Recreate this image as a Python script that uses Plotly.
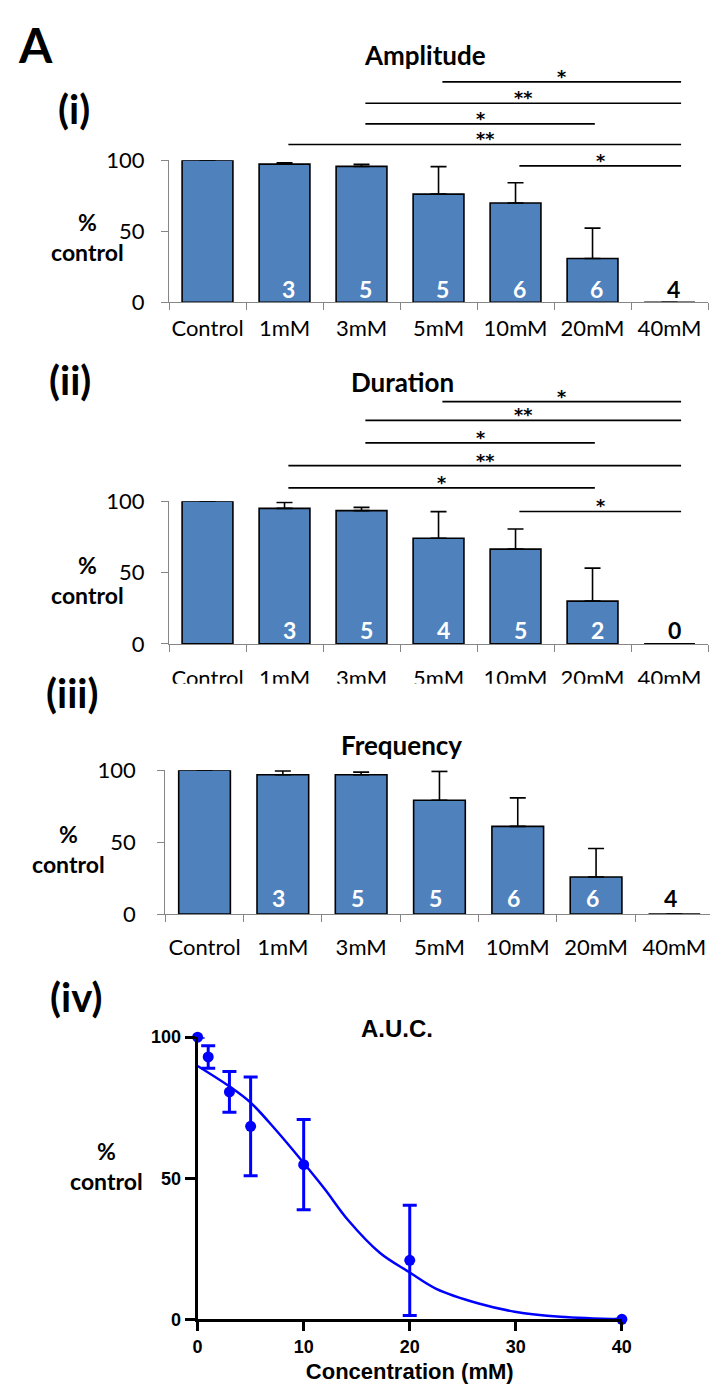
import plotly.graph_objects as go

# ---------------- data ----------------
categories = ["Control", "1mM", "3mM", "5mM", "10mM", "20mM", "40mM"]

amp_mean = [100, 97.2, 95.6, 76.1, 69.9, 30.8, 0]
amp_err = [0, 1.0, 1.5, 19.3, 14.2, 21.4, 0]
amp_n = ["", "3", "5", "5", "6", "6", "4"]
amp_sig_from = ["5mM", "3mM", "3mM", "1mM", "10mM"]
amp_sig_to = ["40mM", "40mM", "20mM", "40mM", "40mM"]
amp_sig_level = [155, 140, 125.5, 111, 95.9]
amp_sig_label = ["*", "**", "*", "**", "*"]

dur_mean = [100, 95.0, 93.4, 74.1, 66.4, 30.0, 0]
dur_err = [0, 4.1, 2.3, 18.6, 14.1, 23.1, 0]
dur_n = ["", "3", "5", "4", "5", "2", "0"]
dur_sig_from = ["5mM", "3mM", "3mM", "1mM", "1mM", "10mM"]
dur_sig_to = ["40mM", "40mM", "20mM", "40mM", "20mM", "40mM"]
dur_sig_level = [169.8, 156.7, 140.9, 125.0, 109.3, 92.8]
dur_sig_label = ["*", "**", "*", "**", "*", "*"]

freq_mean = [100, 96.8, 96.8, 79.1, 60.9, 25.7, 0]
freq_err = [0, 2.7, 1.8, 20.0, 19.8, 19.8, 0]
freq_n = ["", "3", "5", "5", "6", "6", "4"]

auc_conc = [0, 1, 3, 5, 10, 20, 40]
auc_mean = [100, 93.0, 80.6, 68.4, 54.8, 20.9, 0]
auc_err = [0, 4.0, 7.2, 17.5, 16.0, 19.5, 0]
fit_conc = [0, 3.1, 5.0, 7.4, 10.0, 12.0, 14.2, 17.2, 20.0, 22.5, 26.5, 29.9, 34.2, 40]
fit_pct = [89.8, 82.3, 76.8, 67.0, 55.4, 46.1, 35.1, 23.5, 16.6, 10.8, 5.6, 2.7, 0.9, 0]

y_ticks = [0, 50, 100]
conc_ticks = [0, 10, 20, 30, 40]

# ---------------- layout helpers ----------------
W, H = 720, 1400


def fx(p):
    return p / W


def fy(p):
    return 1 - p / H


BAR_BLUE = "#4F81BD"
AX_GRAY = "#868686"
FONT = "Lato"
STAR_FONT = "DejaVu Sans"
GP_FONT = "Liberation Sans"

fig = go.Figure()
annotations = []

panels = [
    dict(mean=amp_mean, err=amp_err, n=amp_n,
         sig=(amp_sig_from, amp_sig_to, amp_sig_level, amp_sig_label),
         x0=167.5, x1=718, xend=718, y0=294, ppu=1.45, ymax=160,
         xstand=6, ystand=12, nshift=(4, 13), helper="y5"),
    dict(mean=dur_mean, err=dur_err, n=dur_n,
         sig=(dur_sig_from, dur_sig_to, dur_sig_level, dur_sig_label),
         x0=167.5, x1=718, xend=718, y0=642.3, ppu=1.455, ymax=178,
         xstand=15, ystand=12, nshift=(5, 14), helper="y6"),
    dict(mean=freq_mean, err=freq_err, n=freq_n, sig=None,
         x0=163.8, x1=720, xend=723.6, y0=917.7, ppu=1.467, ymax=100,
         xstand=13, ystand=17, nshift=(-4, 16), helper=None),
]

idx = {c: i for i, c in enumerate(categories)}
last = len(categories) - 1

for k, p in enumerate(panels, start=1):
    xa = "x" if k == 1 else f"x{k}"
    ya = "y" if k == 1 else f"y{k}"
    cw = (p["xend"] - p["x0"]) / len(categories)
    xr_end = -0.5 + (p["x1"] - p["x0"]) / cw
    top100_px = p["y0"] - 100 * p["ppu"]

    fig.add_trace(go.Bar(
        x=[idx[c] for c in categories], y=p["mean"], xaxis=xa, yaxis=ya,
        marker=dict(color=BAR_BLUE, line=dict(color="black", width=1.6)),
        error_y=dict(type="data", symmetric=False, array=p["err"],
                     arrayminus=[0] * len(p["err"]), color="black",
                     thickness=1.6, width=8),
        cliponaxis=False, showlegend=False, hoverinfo="skip"))

    if p["sig"] is not None:
        ha = p["helper"]
        s_from, s_to, s_lvl, s_lab = p["sig"]
        for a, b, lv, lab in zip(s_from, s_to, s_lvl, s_lab):
            xs = idx[a] + 0.05
            xe = idx[b] + (0.15 if idx[b] == last else 0.03)
            fig.add_trace(go.Scatter(
                x=[xs, xe], y=[lv, lv], mode="lines", xaxis=xa, yaxis=ha,
                line=dict(color="black", width=1.7),
                showlegend=False, hoverinfo="skip"))
            annotations.append(dict(
                x=(xs + xe) / 2, y=lv, xref=xa, yref=ha, text=f"<b>{lab}</b>",
                showarrow=False, yanchor="middle", xanchor="center",
                yshift=5, borderpad=0,
                font=dict(family=STAR_FONT, size=17.5, color="black")))
        top_px = p["y0"] - p["ymax"] * p["ppu"]
        fig.layout["yaxis" + ha[1:]] = dict(
            domain=[fy(p["y0"]), fy(top_px)], anchor=xa,
            range=[0, p["ymax"]], visible=False, showgrid=False,
            zeroline=False, fixedrange=True)

    for i, (c, txt) in enumerate(zip(categories, p["n"])):
        if not txt:
            continue
        col = "white" if p["mean"][i] > 0 else "black"
        annotations.append(dict(
            x=idx[c], y=0, xref=xa, yref=ya, text=f"<b>{txt}</b>",
            showarrow=False, xanchor="center", yanchor="middle",
            xshift=p["nshift"][0], yshift=p["nshift"][1],
            font=dict(family=FONT, size=23, color=col)))

    axkey_x = "xaxis" if k == 1 else f"xaxis{k}"
    axkey_y = "yaxis" if k == 1 else f"yaxis{k}"
    fig.layout[axkey_x] = dict(
        domain=[fx(p["x0"]), fx(p["x1"])], anchor=ya, range=[-0.5, xr_end],
        tickmode="array", tickvals=[idx[c] for c in categories],
        ticktext=categories, ticks="", showgrid=False, zeroline=False,
        showline=True, linecolor=AX_GRAY, linewidth=1.3,
        ticklabelstandoff=p["xstand"],
        tickfont=dict(family=FONT, size=22, color="black"),
        minor=dict(tickmode="array",
                   tickvals=[i - 0.5 for i in range(len(categories) + 1)],
                   ticks="outside", ticklen=7, tickcolor=AX_GRAY,
                   tickwidth=1.3, showgrid=False),
        fixedrange=True)
    fig.layout[axkey_y] = dict(
        domain=[fy(p["y0"]), fy(top100_px)], anchor=xa, range=[0, 100],
        tickmode="array", tickvals=y_ticks, ticks="outside", ticklen=7,
        tickcolor=AX_GRAY, tickwidth=1.3, showgrid=False, zeroline=False,
        showline=True, linecolor=AX_GRAY, linewidth=1.3,
        ticklabelstandoff=p["ystand"],
        tickfont=dict(family=FONT, size=22, color="black"), fixedrange=True)

# ---------------- panel (iv) ----------------
fig.add_trace(go.Scatter(
    x=fit_conc, y=fit_pct, mode="lines", line=dict(color="#0000FF", width=2.5,
                                                   shape="spline", smoothing=1.0),
    xaxis="x4", yaxis="y4", showlegend=False, hoverinfo="skip"))
fig.add_trace(go.Scatter(
    x=auc_conc, y=auc_mean, mode="markers",
    marker=dict(color="#0000FF", size=11),
    error_y=dict(type="data", array=auc_err, color="#0000FF", thickness=3,
                 width=7),
    cliponaxis=False, xaxis="x4", yaxis="y4", showlegend=False,
    hoverinfo="skip"))

fig.layout["xaxis4"] = dict(
    domain=[fx(196.7), fx(630)], anchor="y4", range=[0, 40],
    tickmode="array", tickvals=conc_ticks, ticks="outside", ticklen=9,
    tickwidth=3, tickcolor="black", showline=True, linecolor="black",
    linewidth=3, showgrid=False, zeroline=False,
    tickfont=dict(family=GP_FONT, size=18, color="black", weight="bold"),
    title=dict(text="<b>Concentration (mM)</b>", standoff=8,
               font=dict(family=GP_FONT, size=22, color="black")),
    fixedrange=True)
fig.layout["yaxis4"] = dict(
    domain=[fy(1331), fy(1043.3)], anchor="x4", range=[0, 100],
    tickmode="array", tickvals=y_ticks, ticks="outside", ticklen=10,
    tickwidth=3, tickcolor="black", showline=True, linecolor="black",
    linewidth=3, showgrid=False, zeroline=False,
    tickfont=dict(family=GP_FONT, size=18, color="black", weight="bold"),
    fixedrange=True)

# ---------------- text annotations ----------------
def txt(text, x, y, size, family=FONT, xanchor="center"):
    annotations.append(dict(
        text=text, x=fx(x), y=fy(y), xref="paper", yref="paper",
        showarrow=False, xanchor=xanchor, yanchor="middle", align="center",
        font=dict(family=family, size=size, color="black")))


txt("<b>A</b>", 31, 31, 48)
txt("<b>(i)</b>", 70, 97, 40)
txt("<b>(ii)</b>", 66, 373, 40)
txt("<b>(iii)</b>", 68, 692, 40)
txt("<b>(iv)</b>", 72, 1002, 40)

txt("<b>Amplitude</b>", 429, 42, 26)
txt("<b>Duration</b>", 406, 375, 26)
txt("<b>Frequency</b>", 405, 745, 26)
txt("<b>A.U.C.</b>", 400, 1034, 24, family=GP_FONT)

txt("<b>%<br>control</b>", 84, 227, 23)
txt("<b>%<br>control</b>", 84, 577, 23)
txt("<b>%<br>control</b>", 65, 851, 23)
txt("<b>%<br>control</b>", 104, 1175, 23)

# white mask clipping the bottom of panel (ii) category labels
shapes = [dict(type="rect", xref="paper", yref="paper",
               x0=fx(150), x1=1, y0=fy(705), y1=fy(683),
               fillcolor="white", line=dict(width=0), layer="above")]

fig.update_layout(
    width=W, height=H, margin=dict(l=0, r=0, t=0, b=0),
    paper_bgcolor="white", plot_bgcolor="rgba(0,0,0,0)", bargap=0.34,
    annotations=annotations, shapes=shapes, showlegend=False,
    font=dict(family=FONT, color="black"))

fig.write_html("out.html")
